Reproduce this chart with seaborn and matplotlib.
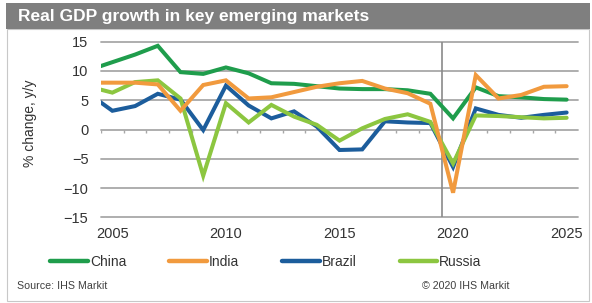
import pandas as pd
import matplotlib.pyplot as plt
import seaborn as sns
from matplotlib.patches import Rectangle
from matplotlib.lines import Line2D

# data (2004 point only feeds the line entering at the left edge)
years = list(range(2004, 2026))
china = [10.2, 11.5, 12.8, 14.3, 9.8, 9.5, 10.6, 9.6, 7.9, 7.8, 7.4,
         7.0, 6.9, 6.9, 6.7, 6.1, 1.9, 7.2, 5.7, 5.5, 5.2, 5.1]
india = [8.0, 8.0, 8.0, 7.7, 3.2, 7.6, 8.4, 5.3, 5.5, 6.4, 7.3,
         7.9, 8.3, 7.0, 6.2, 4.4, -10.8, 9.3, 5.3, 5.9, 7.3, 7.4]
brazil = [6.0, 3.2, 4.0, 6.1, 5.1, -0.1, 7.5, 4.1, 1.9, 3.1, 0.5,
          -3.5, -3.4, 1.4, 1.2, 1.1, -6.4, 3.6, 2.5, 2.0, 2.5, 2.9]
russia = [7.3, 6.3, 8.1, 8.4, 5.3, -7.9, 4.5, 1.2, 4.2, 2.2, 0.8,
          -1.9, 0.2, 1.8, 2.6, 1.3, -5.8, 2.4, 2.3, 2.1, 1.9, 2.0]
countries = ["China", "India", "Brazil", "Russia"]
colors = {"China": "#1f9d4c", "India": "#f19a3e", "Brazil": "#1c5d9c", "Russia": "#8cc640"}

df = pd.DataFrame({"Year": years, "China": china, "India": india,
                   "Brazil": brazil, "Russia": russia})
long_df = df.melt(id_vars="Year", var_name="Country", value_name="Growth")

sns.set_theme(style="white")
plt.rcParams['font.family'] = ['Liberation Sans', 'DejaVu Sans']

W, H = 592, 303
fig = plt.figure(figsize=(W / 100, H / 100), dpi=100)

# frame + title band
fig.patches.append(Rectangle((7 / W, 1 - 301 / H), 582 / W, 272 / H, transform=fig.transFigure,
                             facecolor="white", edgecolor="#c8c8c8", lw=0.8, zorder=-5))
fig.patches.append(Rectangle((6 / W, 1 - 29 / H), 584 / W, 26 / H, transform=fig.transFigure,
                             facecolor="#7f7f7f", edgecolor="none", zorder=-4))
fig.text(18 / W, 1 - 16.5 / H, "Real GDP growth in key emerging markets", color="white",
         fontsize=12.5, fontweight="bold", va="center", ha="left")

ax = fig.add_axes([101 / W, 1 - 217.3 / H, 477 / W, 175.6 / H])
ax.set_facecolor("none")
ax.set_zorder(2)

sns.lineplot(data=long_df, x="Year", y="Growth", hue="Country", hue_order=countries,
             palette=colors, linewidth=2.9, legend=False, ax=ax)
zorders = {"China": 3, "Brazil": 4, "Russia": 5, "India": 6}
for line, c in zip(ax.lines, countries):
    line.set_zorder(zorders[c])
    line.set_solid_joinstyle("miter")

ax.set_xlim(2004.5, 2025.5)
ax.set_ylim(-15, 15)
for v in range(-15, 16, 5):
    ax.axhline(v, color="#a8a8a8", lw=1.3, zorder=1, clip_on=False)
ax.vlines([y + 0.5 for y in years[:-1]], -0.6, 0, color="#a8a8a8", lw=1.0, zorder=1)
ax.axvline(2019.5, color="#8a8a8a", lw=1.2, zorder=2)

for s in ax.spines.values():
    s.set_visible(False)
ax.set_xticks([2005, 2010, 2015, 2020, 2025])
ax.set_yticks(range(-15, 16, 5))
ax.tick_params(axis="x", length=0, pad=7, labelsize=10.5, labelcolor="#333333")
ax.tick_params(axis="y", length=0, pad=9, labelsize=10.5, labelcolor="#333333")
ax.set_xlabel("")
ax.set_ylabel("")
ax.grid(False)
fig.text(30 / W, 1 - 123 / H, "% change, y/y", rotation=90, ha="center", va="center",
         fontsize=10, color="#333333")

handles = [Line2D([], [], color=colors[c], lw=3.2) for c in countries]
fig.legend(handles, countries, ncol=4, loc="center", bbox_to_anchor=(266 / W, 1 - 262 / H),
           frameon=False, fontsize=10, handlelength=2.7, handletextpad=0.15,
           columnspacing=3.1, labelcolor="#333333")

fig.text(17 / W, 1 - 286 / H, "Source: IHS Markit", fontsize=7.7, color="#404040",
         ha="left", va="center")
fig.text(510 / W, 1 - 286 / H, "© 2020 IHS Markit", fontsize=7.7, color="#404040",
         ha="right", va="center")

fig.savefig("out.png", dpi=100)
